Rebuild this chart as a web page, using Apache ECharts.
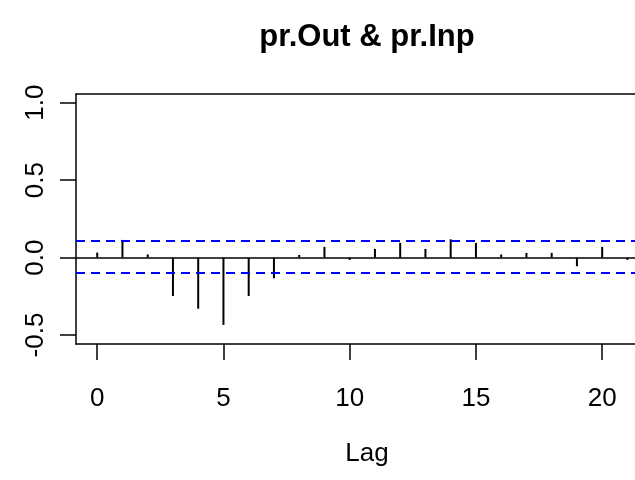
<!DOCTYPE html>
<html>
<head>
<meta charset="utf-8">
<script src="https://cdn.jsdelivr.net/npm/echarts@6/dist/echarts.min.js"></script>
<style>html,body{margin:0;padding:0;background:#fff}#c{width:635px;height:480px}</style>
</head>
<body>
<div id="c"></div>
<script>
var lags = [0,1,2,3,4,5,6,7,8,9,10,11,12,13,14,15,16,17,18,19,20,21];
var ccfValues = [0.032,0.114,0.02,-0.248,-0.33,-0.435,-0.248,-0.134,0.017,0.069,-0.015,0.056,0.095,0.056,0.118,0.095,0.02,0.03,0.03,-0.056,0.069,-0.015];
var upperBound = 0.114;
var lowerBound = -0.103;
var xTicks = [0,5,10,15,20];
var yTicks = [-0.5,0,0.5,1.0];

var chart = echarts.init(document.getElementById('c'), null, {renderer:'canvas'});
var font = 'Liberation Sans, Arial, sans-serif';
var xMin = -0.84, xMax = 21.3;
chart.setOption({
  animation:false,
  backgroundColor:'#ffffff',
  title:[
    {text:'pr.Out & pr.Inp', left:362, top:17, textAlign:'center',
     textStyle:{fontFamily:font, fontSize:31, fontWeight:'bold', color:'#000'}},
    {text:'Lag', left:362, top:436, textAlign:'center',
     textStyle:{fontFamily:font, fontSize:26, fontWeight:'normal', color:'#000'}}
  ],
  grid:{left:76, top:94, right:0, height:250, show:false},
  xAxis:[{
    type:'value', min:xMin, max:xMax, position:'bottom',
    axisLine:{show:true, onZero:false, lineStyle:{color:'#000', width:1.5}},
    splitLine:{show:false},
    axisTick:{show:true, inside:false, length:16, customValues:xTicks, lineStyle:{color:'#000', width:1.5}},
    axisLabel:{show:true, customValues:xTicks, margin:42, fontFamily:font, fontSize:26, color:'#000'}
  },{
    type:'value', min:xMin, max:xMax, position:'top',
    axisLine:{show:true, onZero:false, lineStyle:{color:'#000', width:1.5}},
    splitLine:{show:false}, axisTick:{show:false}, axisLabel:{show:false}
  }],
  yAxis:{
    type:'value', min:-0.558, max:1.056,
    axisLine:{show:true, onZero:false, lineStyle:{color:'#000', width:1.5}},
    splitLine:{show:false},
    axisTick:{show:true, inside:false, length:16, customValues:yTicks, lineStyle:{color:'#000', width:1.5}},
    axisLabel:{show:true, customValues:yTicks, rotate:90, margin:27, fontFamily:font, fontSize:26, color:'#000',
      formatter:function(v){return v.toFixed(1);}}
  },
  series:[
    {
      type:'bar',
      xAxisIndex:0,
      data:lags.map(function(l,i){return [l, ccfValues[i]];}),
      barWidth:2,
      itemStyle:{color:'#000'},
      markLine:{
        silent:true, symbol:'none',
        label:{show:false},
        data:[
          {yAxis:upperBound, lineStyle:{color:'#0000ff', type:[9,6], width:1.8}},
          {yAxis:lowerBound, lineStyle:{color:'#0000ff', type:[9,6], width:1.8}},
          {yAxis:0, lineStyle:{color:'#000', type:'solid', width:1.5}}
        ]
      }
    }
  ]
});
</script>
</body>
</html>
